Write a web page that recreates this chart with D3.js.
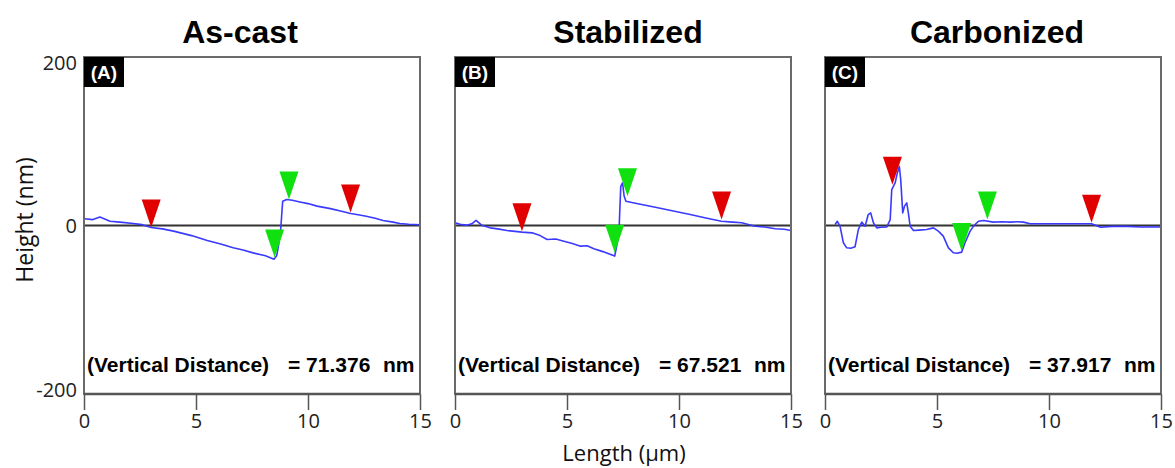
<!DOCTYPE html>
<html>
<head>
<meta charset="utf-8">
<script src="https://cdn.jsdelivr.net/npm/d3@7"></script>
<style>
  html, body { margin: 0; padding: 0; background: #fff; }
  svg { display: block; }
</style>
</head>
<body>
<svg id="chart" width="1175" height="468"></svg>
<script>
// ---------- DATA ----------
const panelTitles = ["As-cast", "Stabilized", "Carbonized"];
const panelLabels = ["(A)", "(B)", "(C)"];
const verticalDistances = ["71.376", "67.521", "37.917"];
const xTicks = [0, 5, 10, 15];
const yTicks = [200, 0, -200];

// Profile A (As-cast): length (µm), height (nm)
const lengthA = [0, 0.4, 0.71, 1.16, 1.6, 2.2, 2.6, 3.0, 3.5, 4.0, 4.8, 5.5, 6.1, 6.66, 7.1, 7.55, 8.1, 8.48, 8.6, 8.68, 8.78, 8.87, 9.05, 9.3, 9.64, 10.0, 10.4, 11.0, 11.5, 11.9, 12.3, 12.6, 13.0, 13.35, 13.8, 14.1, 14.5, 15.0];
const heightA = [8, 7, 10, 5, 4, 2.4, 1, -2.4, -4, -6.7, -12, -17.8, -22, -26.5, -29, -32.5, -36, -40, -36, -24.5, -4.7, 28.9, 30.9, 30, 28, 26, 23, 20, 17, 14.2, 12.5, 11, 8.5, 6, 4, 2.4, 1.5, 0.8];

// Profile B (Stabilized)
const lengthB = [0, 0.3, 0.52, 0.75, 0.94, 1.19, 1.57, 1.9, 2.32, 2.99, 3.44, 3.8, 4.11, 4.5, 4.86, 5.2, 5.61, 5.9, 6.2, 6.6, 7.13, 7.25, 7.33, 7.4, 7.48, 7.55, 7.63, 8.0, 8.5, 9.05, 9.8, 10.5, 11.2, 11.89, 12.4, 12.8, 13.4, 13.9, 14.3, 14.7, 15.0];
const heightB = [3.2, 1, 0.4, 2, 6, 0.4, -2.8, -4, -6, -7.9, -8.7, -12, -16.6, -16, -18.6, -21, -24.5, -24, -27.6, -31, -36.3, -20, -0.8, 46.5, 50.5, 35, 28.8, 26.8, 24, 21, 17, 13, 9, 5, 4, 3.2, -0.8, -2, -3.9, -4.5, -5.9];

// Profile C (Carbonized)
const lengthC = [0.45, 0.55, 0.67, 0.82, 0.97, 1.15, 1.34, 1.49, 1.64, 1.79, 1.93, 2.04, 2.16, 2.31, 2.5, 2.76, 2.91, 2.98, 3.13, 3.23, 3.32, 3.38, 3.47, 3.55, 3.65, 3.72, 3.8, 3.95, 4.2, 4.54, 4.84, 5.06, 5.28, 5.51, 5.73, 5.9, 6.1, 6.25, 6.48, 6.63, 6.85, 7.08, 7.52, 7.9, 8.27, 8.6, 8.86, 9.16, 10.4, 11.3, 11.9, 12.3, 12.8, 13.5, 14.1, 15.0];
const heightC = [1.2, 5, -0.8, -20.5, -26.5, -27, -25.3, -4.7, 4, -0.8, 13, 15, 3.2, -2.8, -2, -1.6, 7, 42.6, 50.5, 62.4, 70, 54.4, 15, 23, 26.9, 15, -0.8, -6, -5.5, -4.7, -2.8, -6.7, -12.6, -26.5, -32.3, -33, -31.6, -20.5, -6.7, -0.8, 5, 5.9, 4, 4.5, 4, 4.5, 4, 2, 2, 2, 2, -2, -1, -1, -1.8, -1.8];

// Cursor markers (x in µm, y in nm at the triangle tip)
const redMarkersX = [[3.0, 11.9], [2.99, 11.9], [3.01, 11.9]];
const redMarkersY = [[-2.4, 15.4], [-6.7, 7.1], [48.5, 3.2]];
const greenMarkersX = [[9.15, 8.51], [7.7, 7.13], [7.25, 6.1]];
const greenMarkersY = [[30.9, -38], [34.7, -32.3], [7.1, -30.4]];

const profiles = [
  {len: lengthA, h: heightA},
  {len: lengthB, h: heightB},
  {len: lengthC, h: heightC}
];

// ---------- LAYOUT ----------
const panelLeft = [84, 455, 825];
const panelWidth = 336;
const plotTop = 57, plotBottom = 394;
const titleOffset = [-12, 5, 4];
const boldFont = "'Liberation Sans', Arial, Helvetica, sans-serif";
const uiFont = "'Open Sans', 'Noto Sans', sans-serif";

const svg = d3.select("#chart");
const y = d3.scaleLinear().domain([-200, 200]).range([plotBottom, plotTop]);

const lineColor = "#3a3aff";
const red = "#e00000";
const green = "#10e010";

panelTitles.forEach((title, i) => {
  const x0 = panelLeft[i], x1 = x0 + panelWidth;
  const x = d3.scaleLinear().domain([0, 15]).range([x0, x1]);
  const g = svg.append("g");

  // title
  g.append("text")
    .attr("x", (x0 + x1) / 2 + titleOffset[i])
    .attr("y", 43)
    .attr("text-anchor", "middle")
    .style("font-family", boldFont)
    .attr("font-weight", "bold")
    .attr("font-size", 32)
    .attr("fill", "#000")
    .text(title);

  // x axis
  const xAxis = d3.axisBottom(x).tickValues(xTicks).tickSize(16).tickPadding(4).tickFormat(d => String(d));
  const ax = g.append("g").attr("transform", `translate(0,${plotBottom})`).call(xAxis);
  ax.select(".domain").remove();
  ax.selectAll(".tick line").attr("stroke", "#555").attr("stroke-width", 1.5);
  ax.selectAll(".tick text")
    .style("font-family", uiFont)
    .attr("font-size", 20)
    .attr("fill", "#222");

  // y axis labels only on first panel
  if (i === 0) {
    const yAxis = d3.axisLeft(y).tickValues(yTicks).tickSize(0).tickPadding(7).tickFormat(d => String(d));
    const ay = g.append("g").attr("transform", `translate(${x0},0)`).call(yAxis);
    ay.select(".domain").remove();
    ay.selectAll(".tick text")
      .style("font-family", uiFont)
      .attr("font-size", 20)
      .attr("fill", "#222")
      .attr("dy", d => d === 200 ? "0.62em" : (d === -200 ? "0.12em" : "0.34em"));
  }

  // zero line
  g.append("line")
    .attr("x1", x0).attr("x2", x1)
    .attr("y1", y(0)).attr("y2", y(0))
    .attr("stroke", "#333").attr("stroke-width", 2);

  // profile line
  const pts = profiles[i].len.map((l, k) => [l, profiles[i].h[k]]);
  g.append("path")
    .datum(pts)
    .attr("fill", "none")
    .attr("stroke", lineColor)
    .attr("stroke-width", 1.6)
    .attr("stroke-linejoin", "round")
    .attr("d", d3.line().x(d => x(d[0])).y(d => y(d[1])));

  // markers (downward triangles, tip at point)
  const tri = (cx, cy) => `M${cx - 9.5},${cy - 28}L${cx + 9.5},${cy - 28}L${cx},${cy}Z`;
  redMarkersX[i].forEach((mx, k) => {
    g.append("path").attr("d", tri(x(mx), y(redMarkersY[i][k]))).attr("fill", red);
  });
  greenMarkersX[i].forEach((mx, k) => {
    g.append("path").attr("d", tri(x(mx), y(greenMarkersY[i][k]))).attr("fill", green);
  });

  // frame
  g.append("rect")
    .attr("x", x0).attr("y", plotTop)
    .attr("width", panelWidth).attr("height", plotBottom - plotTop)
    .attr("fill", "none")
    .attr("stroke", "#6a6a6a").attr("stroke-width", 2);
  g.append("line")
    .attr("x1", x0).attr("x2", x1).attr("y1", plotBottom).attr("y2", plotBottom)
    .attr("stroke", "#555").attr("stroke-width", 2.5);

  // panel label box
  g.append("rect")
    .attr("x", x0).attr("y", plotTop)
    .attr("width", 40).attr("height", 30)
    .attr("fill", "#000");
  g.append("text")
    .attr("x", x0 + 20).attr("y", plotTop + 22)
    .attr("text-anchor", "middle")
    .style("font-family", boldFont)
    .attr("font-weight", "bold")
    .attr("font-size", 19)
    .attr("fill", "#fff")
    .text(panelLabels[i]);

  // vertical distance text
  const vt = g.append("text")
    .attr("y", 372)
    .style("font-family", boldFont)
    .attr("font-weight", "bold")
    .attr("font-size", 21)
    .attr("fill", "#000");
  vt.append("tspan").attr("x", x0 + 3).text("(Vertical Distance)");
  vt.append("tspan").attr("x", x0 + 204).text("= " + verticalDistances[i]);
  vt.append("tspan").attr("x", x0 + 299).text("nm");
});

// axis titles
svg.append("text")
  .attr("transform", "translate(33,220) rotate(-90)")
  .attr("text-anchor", "middle")
  .style("font-family", uiFont)
  .attr("font-size", 23)
  .attr("fill", "#111")
  .text("Height (nm)");

svg.append("text")
  .attr("x", 624).attr("y", 461)
  .attr("text-anchor", "middle")
  .style("font-family", uiFont)
  .attr("font-size", 22)
  .attr("fill", "#111")
  .text("Length (µm)");
</script>
</body>
</html>
